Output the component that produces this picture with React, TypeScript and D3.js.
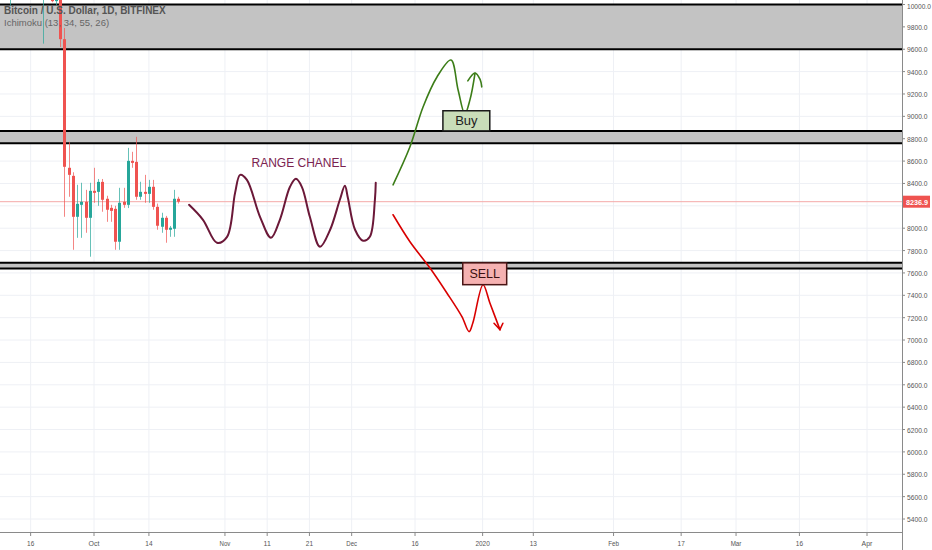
import { useEffect } from 'react'
import * as d3 from 'd3'

const W = 932
const H = 550
const plotRight = 902
const plotBottom = 532

// daily candles: date, open, high, low, close
const candles: [string, number, number, number, number][] = [
  ['2019-09-11', 10100, 10250, 9990, 10160],
  ['2019-09-12', 10160, 10450, 10050, 10410],
  ['2019-09-13', 10410, 10450, 10150, 10360],
  ['2019-09-14', 10360, 10420, 10250, 10350],
  ['2019-09-15', 10350, 10380, 10280, 10300],
  ['2019-09-16', 10300, 10350, 10080, 10250],
  ['2019-09-17', 10250, 10280, 10100, 10190],
  ['2019-09-18', 10190, 10250, 10100, 10160],
  ['2019-09-19', 10160, 10300, 9650, 10270],
  ['2019-09-20', 10270, 10290, 10080, 10170],
  ['2019-09-21', 10170, 10180, 10020, 10030],
  ['2019-09-22', 10030, 10080, 9990, 10060],
  ['2019-09-23', 10060, 10080, 9620, 9690],
  ['2019-09-24', 9690, 9790, 8102, 8549],
  ['2019-09-25', 8540, 8772, 8281, 8477],
  ['2019-09-26', 8468, 8500, 7807, 8102],
  ['2019-09-27', 8102, 8388, 7914, 8218],
  ['2019-09-28', 8209, 8406, 7914, 8236],
  ['2019-09-29', 8236, 8343, 7959, 8093],
  ['2019-09-30', 8093, 8406, 7745, 8334],
  ['2019-10-01', 8334, 8540, 8227, 8316],
  ['2019-10-02', 8325, 8440, 8200, 8414],
  ['2019-10-03', 8414, 8440, 8147, 8254],
  ['2019-10-04', 8263, 8290, 8057, 8165],
  ['2019-10-05', 8182, 8209, 8057, 8155],
  ['2019-10-06', 8173, 8200, 7807, 7879],
  ['2019-10-07', 7879, 8361, 7807, 8227],
  ['2019-10-08', 8236, 8361, 8182, 8209],
  ['2019-10-09', 8209, 8718, 8180, 8602],
  ['2019-10-10', 8602, 8683, 8540, 8584],
  ['2019-10-11', 8593, 8817, 8254, 8281],
  ['2019-10-12', 8281, 8415, 8254, 8325],
  ['2019-10-13', 8325, 8477, 8227, 8307],
  ['2019-10-14', 8307, 8432, 8227, 8370],
  ['2019-10-15', 8370, 8432, 8165, 8191],
  ['2019-10-16', 8191, 8220, 7986, 8022],
  ['2019-10-17', 8013, 8138, 7959, 8093],
  ['2019-10-18', 8093, 8110, 7870, 7986],
  ['2019-10-19', 7986, 8020, 7923, 8004],
  ['2019-10-20', 7995, 8343, 7923, 8263],
  ['2019-10-21', 8263, 8281, 8220, 8236.9],
]

const lastPrice = 8236.9

const timeTicks = [
  '2019-09-16', '2019-10-01', '2019-10-14', '2019-11-01', '2019-11-11',
  '2019-11-21', '2019-12-01', '2019-12-16', '2020-01-01', '2020-01-13',
  '2020-02-01', '2020-02-17', '2020-03-01', '2020-03-16', '2020-04-01',
]
const timeLabels = [
  '16', 'Oct', '14', 'Nov', '11', '21', 'Dec', '16', '2020', '13',
  'Feb', '17', 'Mar', '16', 'Apr',
]

const priceTicks = d3.range(5400, 10001, 200)

// support / resistance zones [low, high]
const zones: [number, number][] = [
  [9600, 10000],
  [8760, 8870],
  [7640, 7690],
]

// hand drawn annotations: [days after Oct 1 2019, price]
const rangeWave: [number, number][] = [
  [22.5, 8209], [25.8, 8075], [29.1, 7870], [31.5, 7923], [33.4, 8316],
  [34.6, 8477], [36.2, 8432], [39.3, 8102], [41.9, 7914], [44.0, 8075],
  [46.4, 8370], [47.8, 8441], [49.2, 8370], [51.1, 8102], [53.5, 7834],
  [55.9, 7986], [58.2, 8254], [59.4, 8379], [60.1, 8272], [61.8, 7986],
  [63.7, 7888], [65.3, 7923], [66.5, 8254], [66.7, 8406],
]
const buyPath: [number, number][] = [
  [70.8, 8388], [74.8, 8728], [77.9, 9084], [81.2, 9352], [84.5, 9504],
  [86.2, 9236], [87.8, 9022], [89.0, 9147], [90.2, 9385],
]
const buyHead: [number, number][] = [[88.5, 9317], [90.2, 9388], [91.4, 9330], [91.8, 9263]]
const sellPath: [number, number][] = [
  [70.8, 8120], [74.8, 7879], [79.5, 7646], [83.5, 7423], [87.1, 7209],
  [88.8, 7075], [89.7, 7155], [92.1, 7495], [93.7, 7334], [96.1, 7093],
]
const sellHead: [number, number][] = [[94.7, 7150], [96.1, 7093], [96.8, 7150]]

// labelled boxes: [day0, day1, priceLow, priceHigh]
const buyBox: [number, number, number, number] = [82.6, 93.7, 8870, 9050]
const sellBox: [number, number, number, number] = [87.3, 97.7, 7495, 7690]
const rangeLabel: [number, number] = [48.5, 8549]

const parse = d3.timeParse('%Y-%m-%d')
const oct1 = new Date(2019, 9, 1)
const dayAt = (d: number) => new Date(oct1.getTime() + d * 864e5)

const x = d3.scaleTime().domain([oct1, new Date(2020, 3, 1)]).range([94, 867])
const y = d3.scaleLinear().domain([5400, 10000]).range([519, 4.5])

const font = '"Liberation Sans", Arial, sans-serif'
const fmt = d3.format('.1f')

export default function App() {
  useEffect(() => {
    document.body.style.margin = '0'
  }, [])

  const pt = (p: [number, number]): [number, number] => [x(dayAt(p[0])), y(p[1])]
  const smooth = d3.line().curve(d3.curveCatmullRom.alpha(0.5))
  const straight = d3.line()

  const box = (b: [number, number, number, number]) => ({
    x: x(dayAt(b[0])),
    y: y(b[3]),
    w: x(dayAt(b[1])) - x(dayAt(b[0])),
    h: y(b[2]) - y(b[3]),
  })
  const bb = box(buyBox)
  const sb = box(sellBox)

  return (
    <svg width={W} height={H} style={{ display: 'block', background: '#fff', fontFamily: font }}>
      <defs>
        <clipPath id="plot">
          <rect x={0} y={0} width={plotRight} height={plotBottom} />
        </clipPath>
      </defs>

      {/* grid */}
      {priceTicks.map((v) => (
        <line key={v} x1={0} x2={plotRight} y1={y(v)} y2={y(v)} stroke="#eef0f5" />
      ))}
      {timeTicks.map((t) => (
        <line key={t} x1={x(parse(t)!)} x2={x(parse(t)!)} y1={0} y2={plotBottom} stroke="#eef0f5" />
      ))}

      {/* zones */}
      {zones.map(([lo, hi]) => (
        <g key={lo}>
          <rect x={0} y={y(hi)} width={plotRight} height={y(lo) - y(hi)} fill="#c3c3c3" />
          <line x1={0} x2={plotRight} y1={y(hi)} y2={y(hi)} stroke="#000" strokeWidth={2} />
          <line x1={0} x2={plotRight} y1={y(lo)} y2={y(lo)} stroke="#000" strokeWidth={2} />
        </g>
      ))}

      {/* last price line */}
      <line x1={0} x2={plotRight} y1={y(lastPrice)} y2={y(lastPrice)} stroke="#f4a9a8" strokeWidth={1} />

      {/* candles */}
      <g clipPath="url(#plot)">
        {candles.map(([d, o, h, l, c]) => {
          const cx = Math.round(x(parse(d)!))
          const up = c >= o
          const col = up ? '#26a69a' : '#ef5350'
          const top = y(Math.max(o, c))
          const bot = y(Math.min(o, c))
          return (
            <g key={d}>
              <line x1={cx + 0.5} x2={cx + 0.5} y1={y(h)} y2={y(l)} stroke={col} strokeOpacity={0.7} />
              <rect x={cx - 1} y={top} width={3} height={Math.max(1, bot - top)} fill={col} />
            </g>
          )
        })}
      </g>

      {/* legend */}
      <text x={4} y={14} fontSize={10} fontWeight="bold" fill="#555">Bitcoin / U.S. Dollar, 1D, BITFINEX</text>
      <text x={4} y={26} fontSize={9.5} fill="#666">Ichimoku (13, 34, 55, 26)</text>

      {/* annotations */}
      <text x={x(dayAt(rangeLabel[0]))} y={y(rangeLabel[1])} textAnchor="middle" fontSize={12} fill="#7a2350">
        RANGE CHANEL
      </text>
      <path d={smooth(rangeWave.map(pt)) ?? ''} fill="none" stroke="#6b1838" strokeWidth={2} strokeLinejoin="round" strokeLinecap="round" />
      <path d={smooth(buyPath.map(pt)) ?? ''} fill="none" stroke="#3c7d18" strokeWidth={1.6} strokeLinecap="round" />
      <path d={smooth(buyHead.map(pt)) ?? ''} fill="none" stroke="#3c7d18" strokeWidth={1.6} strokeLinecap="round" />
      <path d={smooth(sellPath.map(pt)) ?? ''} fill="none" stroke="#d90000" strokeWidth={1.6} strokeLinecap="round" />
      <path d={straight(sellHead.map(pt)) ?? ''} fill="none" stroke="#d90000" strokeWidth={1.6} strokeLinecap="round" />

      <rect x={bb.x} y={bb.y} width={bb.w} height={bb.h} fill="#c9ddb9" stroke="#1a1a1a" strokeWidth={1.5} />
      <text x={bb.x + bb.w / 2} y={bb.y + bb.h / 2 + 4.5} textAnchor="middle" fontSize={13} fill="#222">Buy</text>
      <rect x={sb.x} y={sb.y} width={sb.w} height={sb.h} fill="#f5b1b1" stroke="#4a1515" strokeWidth={1.5} />
      <text x={sb.x + sb.w / 2} y={sb.y + sb.h / 2 + 4.5} textAnchor="middle" fontSize={12.5} fill="#3a1010">SELL</text>

      {/* axes */}
      <line x1={plotRight + 0.5} x2={plotRight + 0.5} y1={0} y2={H} stroke="#8a8a8a" />
      <line x1={0} x2={plotRight} y1={plotBottom + 0.5} y2={plotBottom + 0.5} stroke="#8a8a8a" />
      {priceTicks.map((v) => {
        const label = fmt(v)
        // the label under the last-price tag is hidden
        const hidden = Math.abs(y(v) - y(lastPrice)) < 9
        return (
          <g key={v}>
            <line x1={plotRight} x2={plotRight + 3} y1={y(v)} y2={y(v)} stroke="#8a8a8a" />
            {!hidden && (
              <text
                x={plotRight + 5}
                y={Math.max(y(v) + 3, 9)}
                fontSize={8}
                fill="#555"
                textLength={label.length * 3.4}
                lengthAdjust="spacingAndGlyphs"
              >
                {label}
              </text>
            )}
          </g>
        )
      })}
      {timeTicks.map((t, i) => (
        <g key={t}>
          <line x1={x(parse(t)!)} x2={x(parse(t)!)} y1={plotBottom} y2={plotBottom + 4} stroke="#8a8a8a" />
          <text
            x={x(parse(t)!)}
            y={plotBottom + 14}
            textAnchor="middle"
            fontSize={8}
            fill="#555"
            textLength={timeLabels[i].length * 3.6}
            lengthAdjust="spacingAndGlyphs"
          >
            {timeLabels[i]}
          </text>
        </g>
      ))}
      <rect x={plotRight + 1} y={y(lastPrice) - 6} width={W - plotRight - 3} height={12} fill="#ef5350" />
      <text
        x={plotRight + 4}
        y={y(lastPrice) + 3}
        fontSize={8}
        fontWeight="bold"
        fill="#fff"
        textLength={22}
        lengthAdjust="spacingAndGlyphs"
      >
        {fmt(lastPrice)}
      </text>
    </svg>
  )
}
